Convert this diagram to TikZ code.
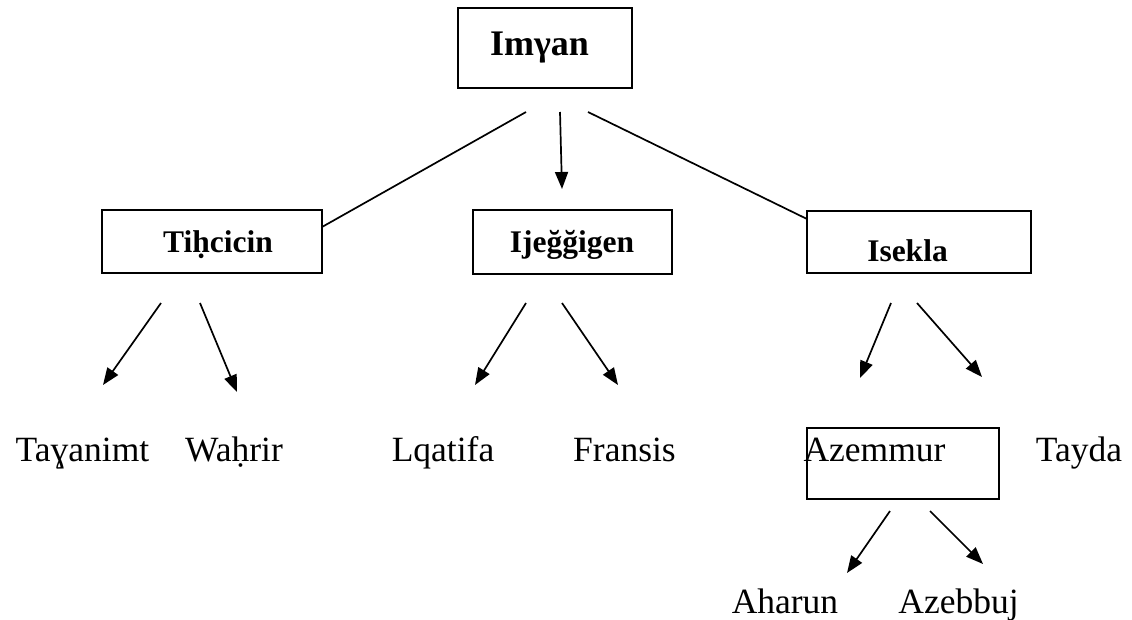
\documentclass[tikz,border=0pt]{standalone}
\usepackage{fontspec}
\setmainfont{Liberation Serif}
\usetikzlibrary{arrows.meta}
\tikzset{
  box/.style={draw, line width=1.7pt, inner sep=0pt},
  lbl/.style={anchor=base, inner sep=0pt, font=\fontsize{35.5}{40}\selectfont},
  blbl/.style={anchor=base, inner sep=0pt, font=\fontsize{31.5}{36}\selectfont\bfseries},
  tlbl/.style={anchor=base, inner sep=0pt, font=\fontsize{36}{40}\selectfont\bfseries},
  link/.style={line width=1.7pt},
  arr/.style={line width=1.7pt, -{Triangle[length=17pt,width=13pt]}}
}
\begin{document}
\begin{tikzpicture}[x=1pt,y=-1pt]
\useasboundingbox (0,0) rectangle (1132,619);
% boxes
\node[box, minimum width=174pt, minimum height=80pt] (top) at (545,48) {};
\node[box, minimum width=220pt, minimum height=63pt] (tih) at (212,241.5) {};
\node[box, minimum width=199pt, minimum height=64pt] (ije) at (572.5,242) {};
\node[box, minimum width=224pt, minimum height=62pt] (ise) at (919,242) {};
\node[box, minimum width=192pt, minimum height=71pt] (aze) at (903,463.5) {};
% texts
\node[tlbl] (topt) at (539.5,55) {Imγan};
\node[blbl] (tiht) at (218,252) {Tiḥcicin};
\node[blbl] (ijet) at (572,252) {Ijeğğigen};
\node[blbl] (iset) at (907.5,261) {Isekla};
\node[lbl] (tay) at (82.5,461) {Taɣanimt};
\node[lbl] (wah) at (234,461) {Waḥrir};
\node[lbl] (lqa) at (443,461) {Lqatifa};
\node[lbl] (fra) at (624.5,461) {Fransis};
\node[lbl] (azet) at (874.5,461) {Azemmur};
\node[lbl] (tyd) at (1079,461) {Tayda};
\node[lbl] (aha) at (785,613) {Aharun};
\node[lbl] (azb) at (958.5,613) {Azebbuj};
% connector end points
\coordinate (s1) at (526,112);
\coordinate (s2) at (560,112);
\coordinate (s3) at (588,112);
\coordinate (e1) at (322,227);
\coordinate (e2) at (562,189);
\coordinate (e3) at (807,219);
\coordinate (t1s) at (161,303); \coordinate (t1e) at (103,385);
\coordinate (t2s) at (200,303); \coordinate (t2e) at (237,392);
\coordinate (j1s) at (526,303); \coordinate (j1e) at (475,385);
\coordinate (j2s) at (562,303); \coordinate (j2e) at (618,385);
\coordinate (i1s) at (891,303); \coordinate (i1e) at (860,378);
\coordinate (i2s) at (917,303); \coordinate (i2e) at (982,377);
\coordinate (a1s) at (890,511); \coordinate (a1e) at (847,573);
\coordinate (a2s) at (930,511); \coordinate (a2e) at (983,564);
% connectors
\draw[link] (s1) -- (e1);
\draw[arr] (s2) -- (e2);
\draw[link] (s3) -- (e3);
\draw[arr] (t1s) -- (t1e);
\draw[arr] (t2s) -- (t2e);
\draw[arr] (j1s) -- (j1e);
\draw[arr] (j2s) -- (j2e);
\draw[arr] (i1s) -- (i1e);
\draw[arr] (i2s) -- (i2e);
\draw[arr] (a1s) -- (a1e);
\draw[arr] (a2s) -- (a2e);
\end{tikzpicture}
\end{document}
